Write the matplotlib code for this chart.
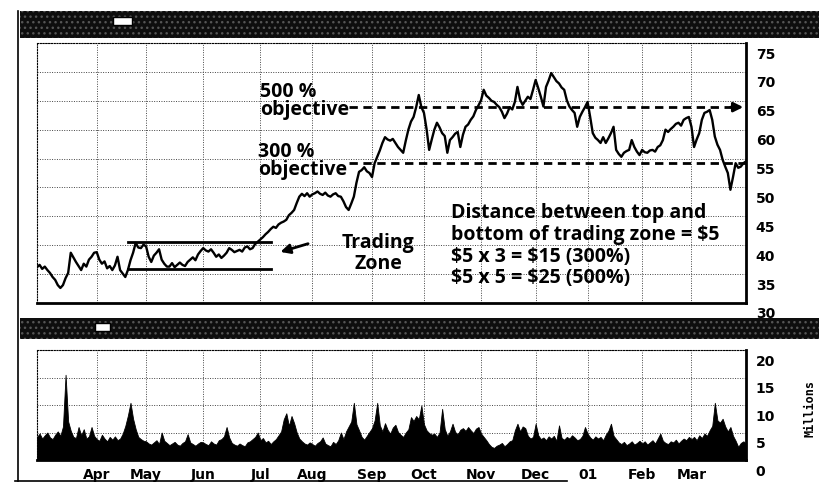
import numpy as np
import matplotlib.pyplot as plt
from matplotlib.patches import Rectangle
from matplotlib.transforms import ScaledTranslation

plt.rcParams['font.family'] = ['Open Sans', 'DejaVu Sans']

# x axis is in trading days, Mar 2000 .. Mar 2001
month_labels = ['', 'Apr', 'May', 'Jun', 'Jul', 'Aug', 'Sep', 'Oct', 'Nov', 'Dec', '01', 'Feb', 'Mar']
month_days = [23, 19, 22, 22, 20, 23, 20, 22, 21, 20, 21, 19, 22]

# daily closes
price_mar00 = [36.2, 36.6, 35.9, 36.3, 35.7, 35.2, 34.5, 34.0, 33.1, 32.6, 33.1, 34.3, 35.2,
               38.7, 37.9, 37.1, 36.4, 35.7, 36.8, 36.3, 37.5, 38.0, 38.7]
price_apr00 = [38.8, 37.5, 36.8, 37.2, 36.0, 36.4, 35.7, 36.5, 38.0, 35.7, 35.1, 34.5, 35.7,
               37.4, 38.7, 40.4, 39.6, 39.5, 40.1]
price_may00 = [39.8, 38.0, 37.1, 38.2, 38.7, 39.3, 37.5, 36.8, 36.3, 36.3, 36.9, 36.2, 36.6,
               37.0, 36.6, 36.4, 37.1, 37.5, 37.9, 37.4, 38.4, 39.0]
price_jun00 = [39.5, 39.1, 38.9, 39.3, 38.7, 38.0, 38.4, 37.8, 38.2, 38.7, 39.5, 39.2, 38.8,
               39.0, 39.2, 38.9, 39.6, 39.8, 39.3, 39.5, 40.2, 40.6]
price_jul00 = [41.0, 41.4, 41.9, 42.3, 42.8, 43.2, 43.0, 43.6, 43.9, 44.1, 44.4, 45.2, 45.6,
               46.1, 47.3, 48.4, 48.9, 48.5, 49.0, 48.4]
price_aug00 = [48.8, 49.0, 49.3, 48.9, 48.7, 49.1, 48.6, 48.4, 48.8, 49.0, 48.5, 48.4, 47.6,
               46.6, 46.1, 47.2, 48.4, 50.8, 52.7, 53.0, 53.5, 52.8, 52.5]
price_sep00 = [51.8, 54.2, 55.3, 56.4, 57.7, 58.7, 58.3, 58.1, 58.4, 57.7, 57.0, 56.5, 56.0,
               58.1, 60.0, 61.4, 62.2, 63.9, 66.0, 63.9]
price_oct00 = [62.9, 60.1, 56.5, 58.3, 60.0, 61.2, 60.4, 59.4, 58.9, 56.0, 58.2, 58.7, 59.3,
               59.6, 57.0, 59.1, 60.5, 60.9, 61.7, 62.3, 63.4, 64.2]
price_nov00 = [65.1, 66.9, 65.9, 65.5, 65.0, 64.8, 64.3, 63.9, 63.1, 62.0, 62.8, 63.9, 63.5,
               64.8, 67.4, 65.2, 64.3, 65.0, 65.7, 65.3, 66.9]
price_dec00 = [68.6, 67.2, 65.7, 64.0, 67.4, 68.5, 69.8, 69.1, 68.4, 68.0, 67.3, 66.9, 65.1,
               64.0, 63.4, 62.9, 60.5, 62.2, 63.1, 63.9]
price_jan01 = [64.8, 62.2, 59.4, 58.6, 58.2, 57.7, 58.7, 57.7, 58.5, 59.4, 60.5, 56.5, 55.8,
               55.3, 56.0, 56.3, 56.5, 58.2, 57.0, 56.2, 55.6]
price_feb01 = [56.5, 56.1, 56.0, 56.4, 56.5, 56.2, 57.0, 57.3, 58.2, 60.0, 59.6, 60.1, 60.5,
               61.0, 61.2, 60.7, 61.7, 62.0, 62.2]
price_mar01 = [60.5, 57.0, 58.3, 59.4, 61.7, 62.9, 63.1, 63.4, 61.7, 58.8, 57.4, 56.5, 54.8,
               53.6, 52.5, 49.6, 51.8, 54.2, 53.4, 53.6, 54.2, 54.5]

# daily volume, millions
vol_mar00 = [4.2, 4.8, 3.9, 4.5, 5.0, 4.1, 3.8, 4.6, 5.2, 4.4, 6.1, 15.5, 7.0, 5.3, 4.2, 4.0,
             6.0, 4.5, 5.6, 3.9, 4.3, 6.0, 4.4]
vol_apr00 = [3.8, 3.5, 4.6, 3.9, 3.4, 4.2, 3.7, 4.3, 3.6, 3.9, 4.8, 6.2, 8.1, 10.4, 7.5, 5.6,
             4.2, 3.8, 3.5]
vol_may00 = [3.4, 3.0, 2.8, 3.2, 3.6, 2.9, 5.0, 3.5, 3.1, 2.7, 3.0, 3.3, 2.8, 2.6, 3.1, 3.4,
             4.7, 3.2, 2.9, 2.6, 3.0, 3.3]
vol_jun00 = [3.2, 2.9, 2.7, 3.4, 3.0, 2.8, 3.6, 3.8, 4.3, 6.0, 4.1, 3.1, 2.8, 2.6, 3.0, 2.7,
             2.5, 3.2, 3.4, 3.8, 4.2, 5.0]
vol_jul00 = [3.6, 4.0, 3.2, 3.5, 2.9, 3.4, 3.8, 4.5, 5.2, 7.4, 8.5, 6.2, 8.0, 6.7, 5.0, 3.9,
             3.4, 3.0, 2.8, 3.2]
vol_aug00 = [2.9, 2.6, 3.1, 3.4, 4.1, 3.0, 2.7, 2.5, 3.3, 2.9, 3.6, 5.0, 3.8, 5.2, 6.1, 7.0,
             10.4, 6.5, 5.4, 4.2, 3.7, 4.4, 5.1]
vol_sep00 = [5.8, 7.2, 10.4, 6.3, 5.2, 6.7, 5.5, 4.8, 5.9, 6.4, 5.1, 4.6, 4.2, 5.0, 5.6, 7.8,
             7.1, 8.0, 7.4, 9.9]
vol_oct00 = [6.5, 5.4, 4.9, 4.6, 4.8, 4.2, 5.0, 9.3, 5.6, 4.4, 5.2, 6.6, 5.1, 4.7, 5.5, 5.8,
             5.3, 6.0, 5.4, 4.9, 5.7, 6.0]
vol_nov00 = [4.8, 4.2, 3.6, 2.9, 2.4, 2.2, 2.6, 2.8, 3.1, 2.5, 2.9, 3.4, 3.6, 5.4, 6.6, 5.2,
             6.1, 5.8, 4.4, 3.9, 4.2]
vol_dec00 = [6.6, 4.5, 3.8, 4.1, 3.6, 4.3, 3.9, 4.4, 3.5, 6.3, 4.0, 3.7, 4.2, 3.9, 4.5, 4.1,
             3.6, 3.8, 4.4, 6.0]
vol_jan01 = [4.8, 4.1, 3.7, 4.3, 3.9, 4.2, 3.6, 4.6, 5.3, 6.6, 4.4, 3.8, 3.2, 2.9, 3.3, 2.7,
             3.0, 3.4, 2.8, 3.1, 3.5]
vol_feb01 = [3.0, 3.4, 2.8, 3.2, 3.6, 3.0, 3.9, 4.8, 3.5, 3.1, 2.9, 3.4, 3.2, 3.7, 3.0, 3.5,
             3.9, 3.6, 4.2]
vol_mar01 = [3.8, 4.2, 3.6, 4.5, 4.0, 4.8, 4.4, 5.4, 6.2, 10.4, 7.2, 6.8, 7.5, 6.1, 5.2, 6.0,
             4.4, 3.5, 2.4, 3.1, 3.4, 3.0]

price_ticks = [30, 35, 40, 45, 50, 55, 60, 65, 70, 75]
vol_ticks = [0, 5, 10, 15, 20]

# annotation levels (price) and their start/end in trading days
zone_top, zone_bottom = 40.6, 35.9
zone_days = (35, 90)
obj_300, obj_500 = 54.2, 63.9
obj_start = 120

price = np.concatenate([price_mar00, price_apr00, price_may00, price_jun00, price_jul00,
                        price_aug00, price_sep00, price_oct00, price_nov00, price_dec00,
                        price_jan01, price_feb01, price_mar01])
volume = np.concatenate([vol_mar00, vol_apr00, vol_may00, vol_jun00, vol_jul00, vol_aug00,
                         vol_sep00, vol_oct00, vol_nov00, vol_dec00, vol_jan01, vol_feb01,
                         vol_mar01])
days = np.arange(len(price))
month_start = np.cumsum([0] + month_days[:-1])
last_day = len(price) - 1

W, H = 819, 490
def fx(px):
    return px / W
def fy(py):
    return 1 - py / H

fig = plt.figure(figsize=(W / 100, H / 100), dpi=100)

# header bars, scanned look
for y0, y1, ix0, ix1, iy0, iy1 in [(11, 38, 113, 132, 17, 25), (318, 339, 95, 110, 323, 331)]:
    fig.patches.append(Rectangle((fx(20), fy(y1)), fx(W) - fx(20), fy(y0) - fy(y1),
                                 transform=fig.transFigure, facecolor='#0e0e0e',
                                 hatch='...', edgecolor='#555555', linewidth=0))
    fig.patches.append(Rectangle((fx(ix0), fy(iy1)), fx(ix1) - fx(ix0), fy(iy0) - fy(iy1),
                                 transform=fig.transFigure, facecolor='white',
                                 edgecolor='black', linewidth=1))

# outer frame (left and bottom only survive in the scan)
fig.add_artist(plt.Line2D([fx(18), fx(18)], [fy(11), fy(481)], color='black', lw=1.2))
fig.add_artist(plt.Line2D([fx(15), fx(567)], [fy(481), fy(481)], color='black', lw=1.2))

ax = fig.add_axes([fx(37), fy(303), fx(746) - fx(37), fy(43) - fy(303)])
axv = fig.add_axes([fx(37), fy(460), fx(746) - fx(37), fy(350) - fy(460)])

grid_kw = dict(color='#444444', lw=0.7, ls=(0, (1, 1.5)))
label_shift = ScaledTranslation(0, -10 / 100, fig.dpi_scale_trans)

for a, ticks in [(ax, price_ticks), (axv, vol_ticks)]:
    a.set_xlim(0, last_day)
    a.set_ylim(ticks[0], ticks[-1])
    a.set_xticks(month_start[1:])
    a.set_yticks(ticks)
    a.grid(True, **grid_kw)
    a.set_axisbelow(True)
    a.yaxis.tick_right()
    a.tick_params(length=0, labelsize=10, pad=7)
    for s in ['top', 'left']:
        a.spines[s].set_linestyle((0, (1, 1.5)))
        a.spines[s].set_linewidth(0.8)
    for s in ['right', 'bottom']:
        a.spines[s].set_linewidth(2)
    a.set_yticklabels([str(t) for t in ticks], family=['Liberation Sans Narrow', 'DejaVu Sans'],
                      weight='bold')
    for lab in a.get_yticklabels():
        lab.set_transform(lab.get_transform() + label_shift)

ax.set_xticklabels([])
axv.set_xticklabels(month_labels[1:], family=['Liberation Sans Narrow', 'DejaVu Sans'],
                    weight='bold', fontsize=10)
axv.tick_params(axis='x', pad=6)

# price and volume
ax.plot(days, price, color='black', lw=1.7)
axv.fill_between(days, volume, color='black', lw=0.6, edgecolor='black')

# trading zone
ax.plot(zone_days, [zone_top, zone_top], color='black', lw=2)
ax.plot(zone_days, [zone_bottom, zone_bottom], color='black', lw=2)
ax.annotate('', xy=(92.7, 38.7), xytext=(105.4, 40.4),
            arrowprops=dict(arrowstyle='-|>', color='black', lw=2, mutation_scale=14))

# objectives
ax.plot([obj_start, last_day], [obj_300, obj_300], color='black', lw=2, ls=(0, (3, 2)))
ax.plot([obj_start, last_day - 5], [obj_500, obj_500], color='black', lw=2, ls=(0, (3, 2)))
ax.annotate('', xy=(last_day, obj_500), xytext=(last_day - 7, obj_500), annotation_clip=False,
            arrowprops=dict(arrowstyle='-|>', color='black', lw=2, mutation_scale=14))

txt = dict(fontsize=14, weight='bold', color='black', parse_math=False)
ax.text(86, 68.3, '500 %\nobjective', va='top', ha='left', linespacing=0.88, **txt)
ax.text(85, 57.9, '300 %\nobjective', va='top', ha='left', linespacing=0.88, **txt)
ax.text(131.3, 42.2, 'Trading\nZone', va='top', ha='center', linespacing=1.08, **txt)
ax.text(159.5, 47.3, 'Distance between top and\nbottom of trading zone = $5\n'
        '$5 x 3 = $15 (300%)\n$5 x 5 = $25 (500%)',
        va='top', ha='left', linespacing=1.12, **txt)

fig.text(fx(810), fy(408), 'Millions', rotation=90, ha='center', va='center',
         family='DejaVu Sans Mono', fontsize=8.5, weight='bold')

fig.savefig('out.png', dpi=100)
